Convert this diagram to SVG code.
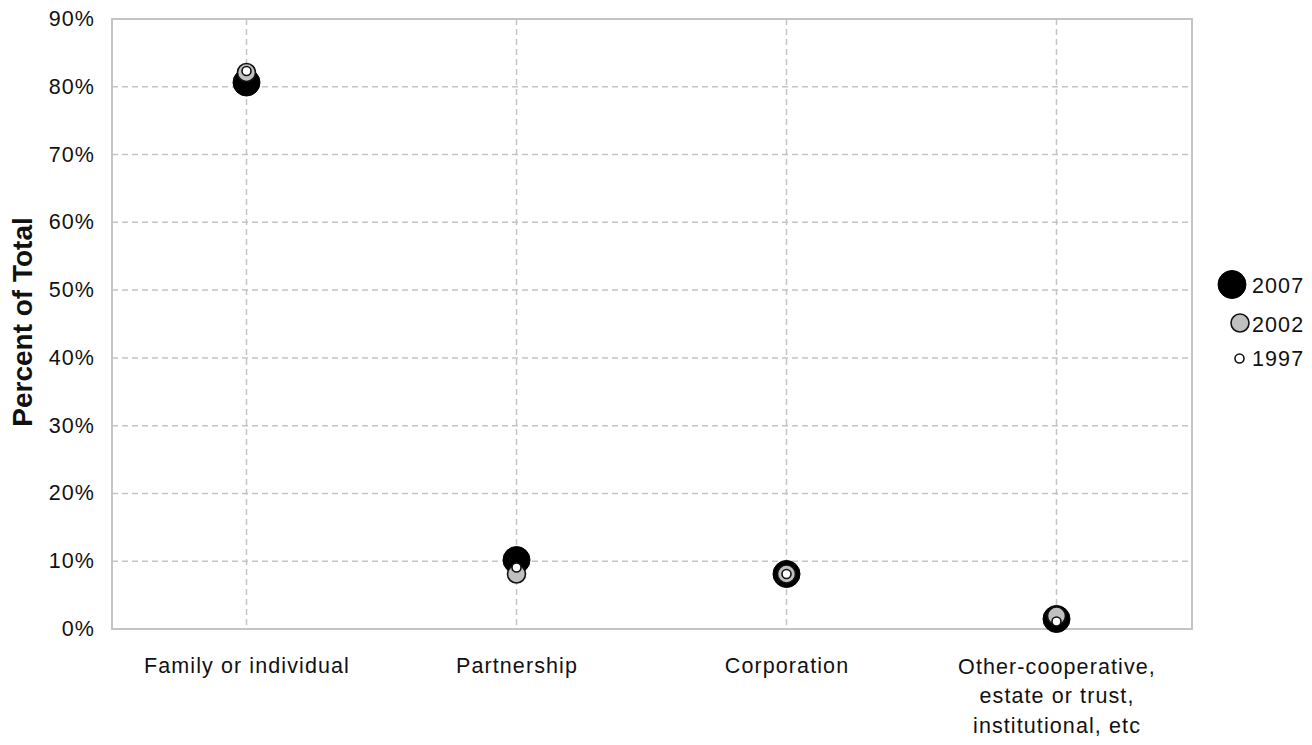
<svg xmlns="http://www.w3.org/2000/svg" width="1312" height="745" viewBox="0 0 1312 745">
<style>
.t{font-family:"Liberation Sans",Arial,sans-serif;font-size:21.5px;fill:#111;letter-spacing:1.1px}
.grid{stroke:#c4c4c4;stroke-width:1.5;stroke-dasharray:6 4;fill:none}
.frame{stroke:#c4c4c4;stroke-width:2;fill:none}
.m07{fill:#000;stroke:#000;stroke-width:1}
.m02{fill:#c0c0c0;stroke:#111;stroke-width:1.6}
.m97{fill:#fff;stroke:#111;stroke-width:1.6}
</style>
<rect width="1312" height="745" fill="#fff"/>
<g id="gridlines">
<line class="grid" x1="112" y1="86.8" x2="1192" y2="86.8"/>
<line class="grid" x1="112" y1="154.6" x2="1192" y2="154.6"/>
<line class="grid" x1="112" y1="222.3" x2="1192" y2="222.3"/>
<line class="grid" x1="112" y1="290.1" x2="1192" y2="290.1"/>
<line class="grid" x1="112" y1="357.9" x2="1192" y2="357.9"/>
<line class="grid" x1="112" y1="425.7" x2="1192" y2="425.7"/>
<line class="grid" x1="112" y1="493.4" x2="1192" y2="493.4"/>
<line class="grid" x1="112" y1="561.2" x2="1192" y2="561.2"/>
<line class="grid" x1="246.5" y1="19" x2="246.5" y2="629"/>
<line class="grid" x1="516.5" y1="19" x2="516.5" y2="629"/>
<line class="grid" x1="786.5" y1="19" x2="786.5" y2="629"/>
<line class="grid" x1="1056.5" y1="19" x2="1056.5" y2="629"/>
</g>
<rect id="plot-frame" class="frame" x="112" y="19" width="1080" height="610"/>
<g id="y-axis-labels" class="t" text-anchor="end">
<text x="95" y="26">90%</text>
<text x="95" y="94">80%</text>
<text x="95" y="161.5">70%</text>
<text x="95" y="229.3">60%</text>
<text x="95" y="297">50%</text>
<text x="95" y="364.9">40%</text>
<text x="95" y="432.7">30%</text>
<text x="95" y="500.4">20%</text>
<text x="95" y="568.2">10%</text>
<text x="95" y="636">0%</text>
</g>
<text id="y-axis-title" transform="translate(32,322) rotate(-90)" text-anchor="middle" style="font-family:'Liberation Sans',Arial,sans-serif;font-size:28px;font-weight:bold;fill:#111">Percent of Total</text>
<g id="x-axis-labels" class="t" text-anchor="middle">
<text x="247" y="673">Family or individual</text>
<text x="517" y="673">Partnership</text>
<text x="787" y="673">Corporation</text>
<text x="1057" y="674">Other-cooperative,</text>
<text x="1057" y="703">estate or trust,</text>
<text x="1057" y="733">institutional, etc</text>
</g>
<g id="series-2007">
<circle class="m07" cx="246.5" cy="82.5" r="13.5"/>
<circle class="m07" cx="516.5" cy="560" r="13.5"/>
<circle class="m07" cx="786.5" cy="574" r="13.5"/>
<circle class="m07" cx="1056.5" cy="619" r="13.5"/>
</g>
<g id="series-2002">
<circle class="m02" cx="246.5" cy="72.5" r="9"/>
<circle class="m02" cx="516.5" cy="574" r="9"/>
<circle class="m02" cx="786.5" cy="574" r="9"/>
<circle class="m02" cx="1056.5" cy="616" r="9"/>
</g>
<g id="series-1997">
<circle class="m97" cx="246.5" cy="71" r="4.5"/>
<circle class="m97" cx="516.5" cy="567.5" r="4.5"/>
<circle class="m97" cx="786.5" cy="574" r="4.5"/>
<circle class="m97" cx="1056.5" cy="621.5" r="4.5"/>
</g>
<g id="legend">
<circle class="m07" cx="1232" cy="284.5" r="14"/>
<circle class="m02" cx="1240" cy="323" r="9"/>
<circle class="m97" cx="1239.5" cy="358.5" r="4.5"/>
<g class="t">
<text x="1252" y="293">2007</text>
<text x="1252" y="332">2002</text>
<text x="1252" y="366">1997</text>
</g>
</g>
</svg>
